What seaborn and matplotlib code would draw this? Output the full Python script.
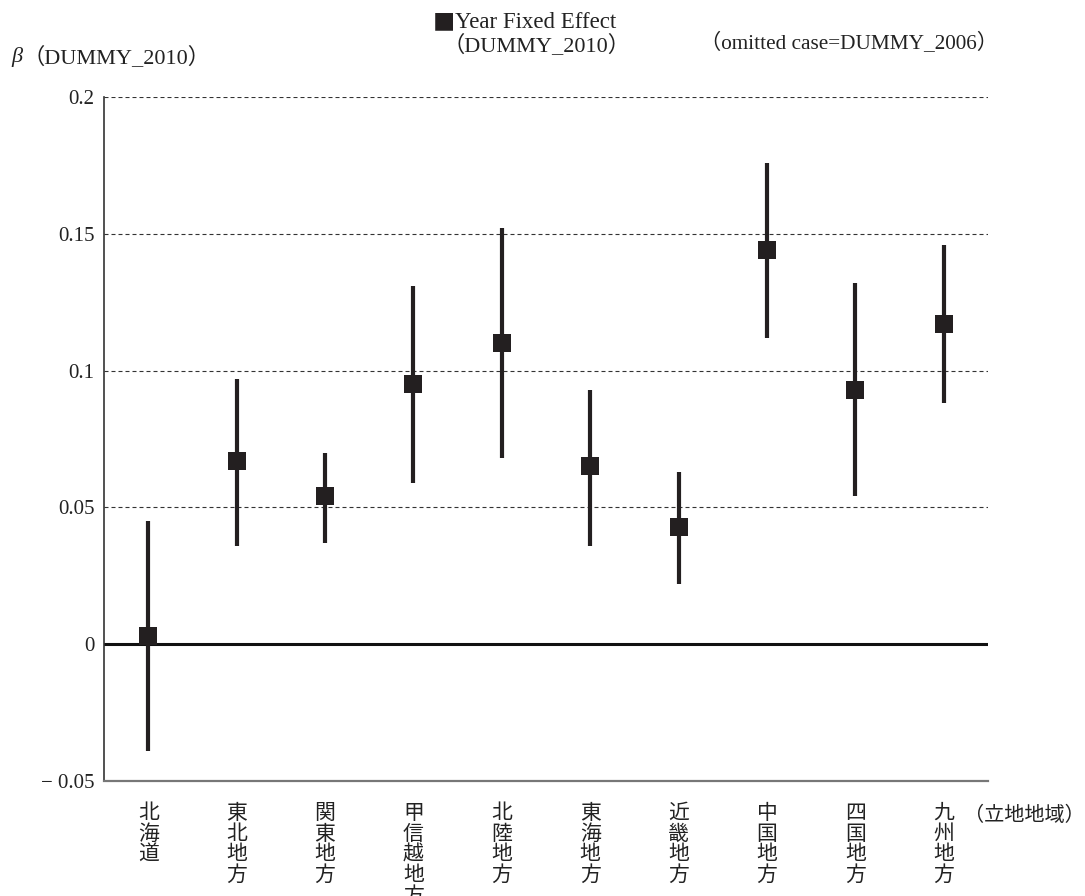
import numpy as np
import pandas as pd
import matplotlib
matplotlib.use("Agg")
import matplotlib.pyplot as plt
from matplotlib.ticker import FixedLocator
import seaborn as sns

# Region-level year fixed effect (DUMMY_2010) with confidence bounds
regions = ["北海道", "東北地方", "関東地方", "甲信越地方", "北陸地方",
           "東海地方", "近畿地方", "中国地方", "四国地方", "九州地方"]
beta = [0.003, 0.067, 0.054, 0.095, 0.110, 0.065, 0.043, 0.144, 0.093, 0.117]
lower = [-0.039, 0.036, 0.037, 0.059, 0.068, 0.036, 0.022, 0.112, 0.054, 0.088]
upper = [0.045, 0.097, 0.070, 0.131, 0.152, 0.093, 0.063, 0.176, 0.132, 0.146]

y_ticks = [-0.05, 0, 0.05, 0.1, 0.15, 0.2]
y_tick_labels = ["− 0.05", "0", "0.05", "0.1", "0.15", "0.2"]
grid_levels = [0.05, 0.1, 0.15, 0.2]

sns.set_theme(style="white")
serif_cjk = ["Liberation Serif", "Noto Sans CJK JP"]
plt.rcParams["font.family"] = serif_cjk

ink = "#231f20"
txt = "#222222"
df = pd.DataFrame({"region": regions, "beta": beta, "lower": lower, "upper": upper})

fig = plt.figure(figsize=(10.85, 8.96), dpi=100)
ax = fig.add_axes([0.0959, 0.1283, 0.8147, 0.7634])

# dashed reference levels and the solid zero line
for lvl in grid_levels:
    ax.axhline(lvl, color="#333333", lw=0.8, ls=(0, (3.6, 2.7)), zorder=1)
ax.axhline(0, color="#111111", lw=2.2, zorder=2)

pos = np.arange(len(df))
ax.vlines(pos, df["lower"], df["upper"], color=ink, lw=3.0, zorder=3)
sns.pointplot(data=df, x="region", y="beta", order=regions, linestyle="none",
              markers="s", color=ink, errorbar=None, markersize=13.5,
              markeredgewidth=0, ax=ax, zorder=4)

ax.set_xlim(-0.5, len(regions) - 0.5)
ax.set_ylim(-0.05, 0.2)
ax.set_xlabel("")
ax.set_ylabel("")

ax.set_yticks(y_ticks)
ax.set_yticklabels(y_tick_labels, fontsize=15, color=txt,
                   family="Liberation Serif")
ax.tick_params(axis="y", length=0, pad=7)

ax.set_xticks(pos)
ax.set_xticklabels(["\n".join(r) for r in regions], fontsize=15,
                   family="Noto Sans CJK JP", color=txt,
                   linespacing=0.92, va="top")
ax.tick_params(axis="x", which="major", length=0, pad=15)
ax.xaxis.set_minor_locator(FixedLocator(pos + 0.5))
ax.tick_params(axis="x", which="minor", direction="in", length=7,
               width=1.2, color="#666666")

for side in ["top", "right"]:
    ax.spines[side].set_visible(False)
ax.spines["left"].set_color("#333333")
ax.spines["left"].set_linewidth(1.2)
ax.spines["bottom"].set_color("#777777")
ax.spines["bottom"].set_linewidth(1.6)

# annotations around the plot area
fig.text(11 / 1085, 1 - 57 / 896, "β", fontsize=16, style="italic",
         family="Liberation Serif", va="center", ha="left", color=txt)
fig.text(23 / 1085, 1 - 57 / 896, "（DUMMY_2010）", fontsize=16,
         va="center", ha="left", color=txt)
fig.text(998 / 1085, 1 - 44 / 896, "（omitted case=DUMMY_2006）", fontsize=15.3,
         va="center", ha="right", color=txt)
fig.text(433 / 1085, 1 - 23 / 896, "■", fontsize=16, family="Noto Sans CJK JP",
         va="center", ha="left", color=ink)
fig.text(455 / 1085, 1 - 23 / 896, "Year Fixed Effect", fontsize=16.5,
         va="center", ha="left", color=txt)
fig.text(442 / 1085, 1 - 45 / 896, "（DUMMY_2010）", fontsize=16,
         va="center", ha="left", color=txt)
fig.text(1085 / 1085, 1 - 815 / 896, "（立地地域）", fontsize=14.5,
         family="Noto Sans CJK JP", va="center", ha="right", color=txt)

fig.savefig("out.png", dpi=100, facecolor="white")
